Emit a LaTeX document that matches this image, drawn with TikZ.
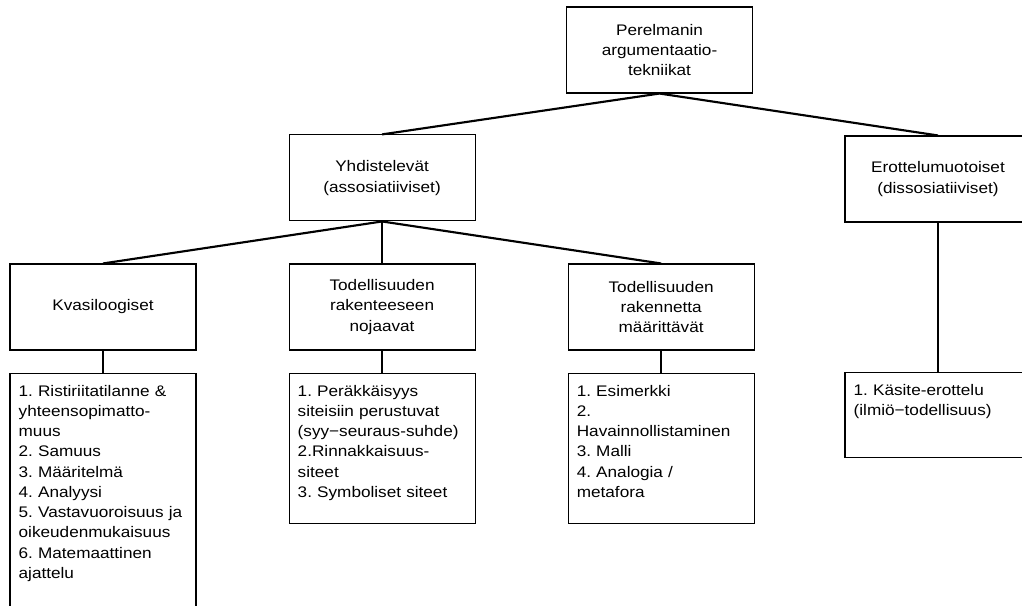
\documentclass[tikz,border=0pt]{standalone}
\usepackage{fontspec}
\setmainfont{Liberation Sans}[FakeStretch=1.12]
\usetikzlibrary{positioning}
\frenchspacing

\begin{document}
\begin{tikzpicture}[x=0.75pt,y=-0.75pt,line width=1.6pt,font=\fontsize{11.5}{15.2}\selectfont]
\tikzstyle{heading} = [draw,rectangle,line width=0.8pt,minimum width=139.5pt,minimum height=64.5pt,
                       inner sep=2pt,align=center,node distance=31.5pt and 69pt]
\tikzstyle{listing} = [draw,rectangle,line width=0.8pt,anchor=north,inner xsep=6.5pt,inner ysep=8.25pt,
                       text width=126.5pt,align=left,text height=9pt,node distance=16.5pt]

\clip[use as bounding box] (0,0) rectangle (1022,606);

\node[heading] (perelman) at (659.5,50) {Perelmanin\\argumentaatio-\\tekniikat};
\node[heading] (kvasi) at (103,307) {Kvasiloogiset};
\node[heading] (rakenteeseen) [right = of kvasi] {Todellisuuden\\rakenteeseen\\nojaavat};
\node[heading] (rakennetta) [right = of rakenteeseen] {Todellisuuden\\rakennetta\\määrittävät};
\node[heading] (yhd) [above = of rakenteeseen] {Yhdistelevät\\(assosiatiiviset)};
\node[heading] (ero) at (938,179) {Erottelumuotoiset\\(dissosiatiiviset)};

% luettelot
\node[listing,text depth=157.5pt] (kvasilist) [below = of kvasi]
  {1. Ristiriitatilanne \&\\yhteensopimatto-\\muus\\2. Samuus\\3. Määritelmä\\4. Analyysi\\
   5. Vastavuoroisuus ja\\oikeudenmukaisuus\\6. Matemaattinen\\ajattelu};
\node[listing,text depth=87pt] (rakenteeseenlist) [below = of rakenteeseen]
  {1. Peräkkäisyys\\siteisiin perustuvat\\(syy−seuraus-suhde)\\2.Rinnakkaisuus-\\siteet\\3. Symboliset siteet};
\node[listing,text depth=87pt] (rakennettalist) [below = of rakennetta]
  {1. Esimerkki\\2.\\Havainnollistaminen\\3. Malli\\4. Analogia /\\metafora};
\node[listing,text depth=38.25pt] (erolist) at (938,372)
  {1. Käsite-erottelu\\(ilmiö−todellisuus)};

\foreach \c in {yhd,ero}
{
   \path (perelman.south) edge (\c.north);
}
\foreach \c in {kvasi,rakenteeseen,rakennetta}
{
   \path (yhd.south) edge (\c.north);
   \path (\c.south) edge (\c list.north);
}
\path (ero.south) edge (erolist.north);

\end{tikzpicture}
\end{document}
